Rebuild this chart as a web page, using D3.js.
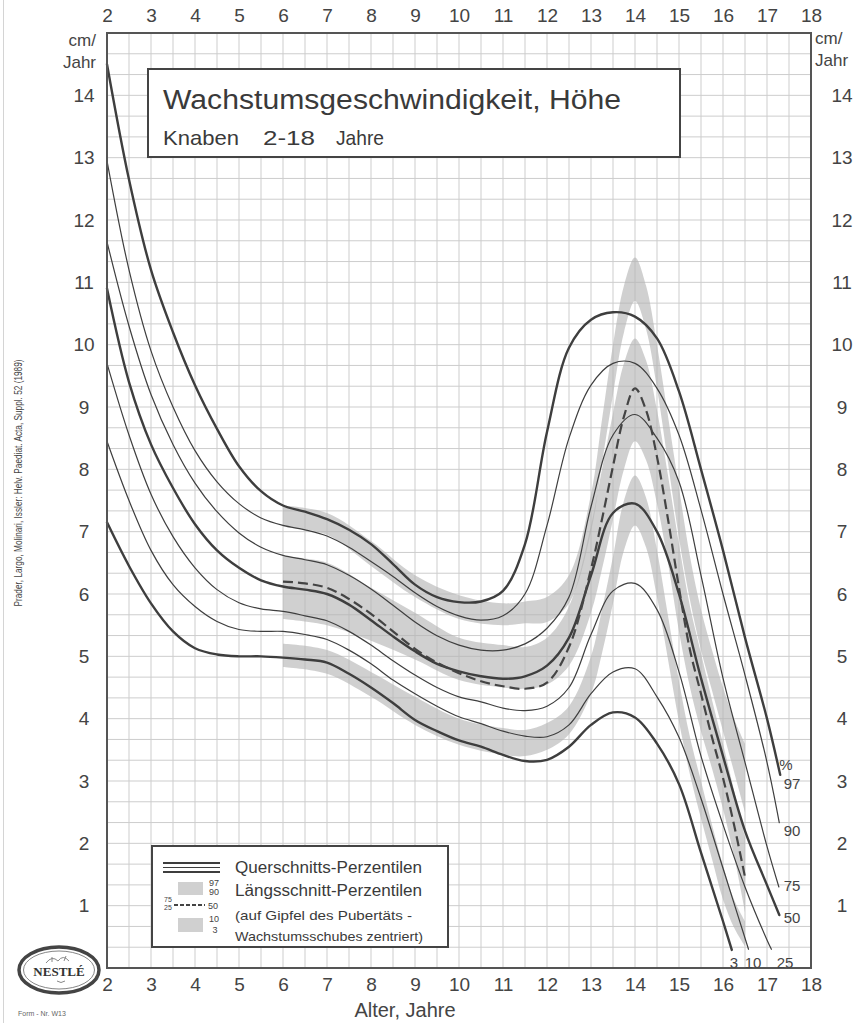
<!DOCTYPE html>
<html>
<head>
<meta charset="utf-8">
<script src="https://cdn.jsdelivr.net/npm/d3@7"></script>
<style>
  html, body { margin: 0; padding: 0; background: #fff; }
  svg { display: block; font-family: "Liberation Sans", Arial, Helvetica, sans-serif; }
</style>
</head>
<body>
<svg id="chart" width="868" height="1023"></svg>
<script>
// ---- Tick labels -------------------------------------------------------
const ageTicks = [2, 3, 4, 5, 6, 7, 8, 9, 10, 11, 12, 13, 14, 15, 16, 17, 18];
const rateTicks = [1, 2, 3, 4, 5, 6, 7, 8, 9, 10, 11, 12, 13, 14];

// ---- Cross-sectional percentiles: [age (years), velocity (cm/year)] -----
const p97 = [[2,14.5],[2.5,12.65],[3,11.2],[3.5,10.2],[4,9.35],[4.5,8.65],[5,8.05],[5.5,7.65],[6,7.42],[6.5,7.32],[7,7.2],[7.5,7.03],[8,6.8],[8.5,6.48],[9,6.15],[9.5,5.95],[10,5.87],[10.5,5.88],[11,6.05],[11.5,6.8],[12,8.6],[12.5,9.95],[13,10.4],[13.5,10.52],[14,10.45],[14.5,10.1],[15,9.25],[15.5,8.0],[16,6.7],[16.5,5.3],[17,4.0],[17.3,3.1]];
const p90 = [[2,12.95],[2.5,11.2],[3,9.9],[3.5,9.0],[4,8.3],[4.5,7.8],[5,7.45],[5.5,7.22],[6,7.1],[6.5,7.03],[7,6.93],[7.5,6.75],[8,6.52],[8.5,6.28],[9,6.02],[9.5,5.8],[10,5.65],[10.5,5.58],[11,5.65],[11.5,6.0],[12,7.1],[12.5,8.5],[13,9.35],[13.5,9.7],[14,9.7],[14.5,9.3],[15,8.55],[15.5,7.35],[16,6.0],[16.5,4.7],[17,3.3],[17.28,2.33]];
const p75 = [[2,11.65],[2.5,10.3],[3,9.2],[3.5,8.4],[4,7.78],[4.5,7.32],[5,6.98],[5.5,6.75],[6,6.62],[6.5,6.55],[7,6.47],[7.5,6.3],[8,6.08],[8.5,5.82],[9,5.55],[9.5,5.33],[10,5.18],[10.5,5.1],[11,5.1],[11.5,5.2],[12,5.45],[12.5,5.95],[13,7.4],[13.5,8.55],[14,8.88],[14.5,8.5],[15,7.8],[15.5,6.3],[16,4.65],[16.5,3.3],[17,1.95],[17.27,1.3]];
const p50 = [[2,10.9],[2.5,9.4],[3,8.4],[3.5,7.7],[4,7.12],[4.5,6.7],[5,6.42],[5.5,6.22],[6,6.12],[6.5,6.07],[7,6.0],[7.5,5.83],[8,5.58],[8.5,5.32],[9,5.08],[9.5,4.88],[10,4.76],[10.5,4.68],[11,4.64],[11.5,4.68],[12,4.85],[12.5,5.3],[13,6.3],[13.5,7.3],[14,7.45],[14.5,7.0],[15,6.0],[15.5,4.65],[16,3.4],[16.5,2.2],[17,1.33],[17.28,0.85]];
const p25 = [[2,9.7],[2.5,8.55],[3,7.6],[3.5,6.92],[4,6.42],[4.5,6.07],[5,5.86],[5.5,5.76],[6,5.72],[6.5,5.65],[7,5.57],[7.5,5.4],[8,5.18],[8.5,4.93],[9,4.7],[9.5,4.5],[10,4.35],[10.5,4.27],[11,4.17],[11.5,4.13],[12,4.2],[12.5,4.5],[13,5.35],[13.5,6.05],[14,6.17],[14.5,5.75],[15,4.75],[15.5,3.4],[16,2.3],[16.5,1.3],[17,0.45],[17.1,0.3]];
const p10 = [[2,8.45],[2.5,7.5],[3,6.7],[3.5,6.15],[4,5.8],[4.5,5.56],[5,5.43],[5.5,5.4],[6,5.4],[6.5,5.35],[7,5.27],[7.5,5.1],[8,4.88],[8.5,4.62],[9,4.4],[9.5,4.2],[10,4.03],[10.5,3.92],[11,3.8],[11.5,3.72],[12,3.71],[12.5,3.9],[13,4.4],[13.5,4.75],[14,4.8],[14.5,4.35],[15,3.7],[15.5,2.72],[16,1.6],[16.58,0.3]];
const p3 = [[2,7.15],[2.5,6.45],[3,5.85],[3.5,5.4],[4,5.13],[4.5,5.03],[5,5.0],[5.5,5.0],[6,4.98],[6.5,4.95],[7,4.9],[7.5,4.72],[8,4.5],[8.5,4.25],[9,3.98],[9.5,3.8],[10,3.65],[10.5,3.55],[11,3.42],[11.5,3.32],[12,3.34],[12.5,3.55],[13,3.9],[13.5,4.1],[14,4.02],[14.5,3.6],[15,2.95],[15.5,1.85],[16,0.75],[16.2,0.29]];

// ---- Longitudinal percentiles (centred on peak height velocity) --------
const longAges = [6,7,8,9,10,11,11.5,12,12.5,13,13.25,13.5,13.75,14,14.25,14.5,14.75,15,15.25,15.5,15.75,16,16.25,16.5];
const long97 = [7.42,7.3,6.85,6.3,5.98,5.85,5.88,5.95,6.3,7.6,8.8,10.0,10.95,11.4,10.95,10.0,8.85,7.7,6.6,5.75,5.1,4.5,4.0,3.6];
const long90 = [7.08,6.95,6.45,5.95,5.6,5.5,5.53,5.55,5.85,7.0,8.1,9.2,10.2,10.7,10.25,9.3,8.1,6.9,5.9,5.1,4.45,3.8,3.15,2.5];
const long75 = [6.6,6.5,6.1,5.7,5.3,5.18,5.15,5.3,5.8,7.1,8.0,8.9,9.7,10.1,9.75,8.95,7.9,6.8,5.8,5.05,4.3,3.6,2.85,2.1];
const long25 = [5.6,5.5,5.25,4.95,4.62,4.5,4.48,4.55,4.85,5.7,6.4,7.2,8.0,8.45,8.15,7.45,6.5,5.4,4.5,3.8,3.2,2.55,1.8,0.9];
const long10 = [5.2,5.1,4.75,4.35,4.0,3.85,3.82,3.93,4.2,5.0,5.75,6.6,7.5,7.9,7.55,6.7,5.65,4.6,3.7,3.0,2.3,1.65,1.1,0.75];
const long3  = [4.83,4.72,4.35,3.9,3.58,3.42,3.4,3.5,3.75,4.4,5.05,5.85,6.7,7.1,6.75,5.95,4.95,3.95,3.1,2.4,1.75,1.1,0.65,0.35];
const long50 = [[6,6.2],[6.5,6.17],[7,6.1],[7.5,5.92],[8,5.68],[8.5,5.4],[9,5.12],[9.5,4.9],[10,4.73],[10.5,4.6],[11,4.52],[11.5,4.48],[12,4.58],[12.5,5.15],[13,6.4],[13.25,7.2],[13.5,8.05],[13.75,8.85],[14,9.3],[14.25,8.95],[14.5,8.2],[14.75,7.2],[15,6.1],[15.25,5.1],[15.5,4.4],[15.75,3.7],[16,3.05],[16.25,2.3],[16.5,1.46]];

// ---- Setup --------------------------------------------------------------
const svg = d3.select("#chart");
const ink = "#3e3e3e";
const x = d3.scaleLinear().domain([2, 18]).range([107, 811]);
const y = d3.scaleLinear().domain([0, 15]).range([968, 33]);

// page edge
svg.append("line").attr("x1", 3.5).attr("x2", 3.5).attr("y1", 0).attr("y2", 1023)
  .attr("stroke", "#d4d4d4").attr("stroke-width", 1);

// ---- Grid ---------------------------------------------------------------
const grid = svg.append("g").attr("stroke", "#cdcdcd").attr("stroke-width", 1);
grid.selectAll("line.v").data(d3.range(2, 18.001, 0.5)).join("line")
  .attr("x1", d => x(d)).attr("x2", d => x(d)).attr("y1", y(15)).attr("y2", y(0));
grid.selectAll("line.h").data(d3.range(0, 46).map(i => i / 3)).join("line")
  .attr("y1", d => y(d)).attr("y2", d => y(d)).attr("x1", x(2)).attr("x2", x(18));

// ---- Longitudinal bands -------------------------------------------------
const bandCurve = d3.curveCatmullRom.alpha(0.5);
const area = d3.area()
  .x((d, i) => x(longAges[i]))
  .y0(d => y(d[0])).y1(d => y(d[1]))
  .curve(bandCurve);
const bands = [
  [long90, long97],
  [long25, long75],
  [long3, long10]
];
svg.append("g").selectAll("path").data(bands).join("path")
  .attr("d", b => area(longAges.map((a, i) => [b[0][i], b[1][i]])))
  .attr("fill", "#b3b3b3").attr("fill-opacity", 0.62);

// ---- Cross-sectional percentile curves -------------------------------
const line = d3.line().x(d => x(d[0])).y(d => y(d[1])).curve(d3.curveCatmullRom.alpha(0.5));
const curves = [
  { data: p97, w: 2.4 }, { data: p90, w: 1.2 }, { data: p75, w: 1.2 },
  { data: p50, w: 2.4 }, { data: p25, w: 1.2 }, { data: p10, w: 1.2 },
  { data: p3, w: 2.4 }
];
svg.append("g").selectAll("path").data(curves).join("path")
  .attr("d", c => line(c.data))
  .attr("fill", "none").attr("stroke", ink)
  .attr("stroke-width", c => c.w).attr("stroke-linecap", "round");

// longitudinal median, dashed
svg.append("path").attr("d", line(long50))
  .attr("fill", "none").attr("stroke", "#444").attr("stroke-width", 2.2)
  .attr("stroke-dasharray", "10,5");

// ---- Frame ------------------------------------------------------------------
svg.append("rect").attr("x", x(2)).attr("y", y(15))
  .attr("width", x(18) - x(2)).attr("height", y(0) - y(15))
  .attr("fill", "none").attr("stroke", "#555").attr("stroke-width", 2);

// ---- Axes ------------------------------------------------------------------
function styleAxis(g) {
  g.select(".domain").remove();
  g.selectAll("text").attr("font-size", 19).attr("fill", "#444")
    .attr("font-family", "'Liberation Sans', Arial, sans-serif");
}
svg.append("g").attr("transform", `translate(0,${y(15)})`)
  .call(d3.axisTop(x).tickValues(ageTicks).tickSize(0).tickPadding(11).tickFormat(d3.format("d")))
  .call(styleAxis);
svg.append("g").attr("transform", `translate(0,${y(0)})`)
  .call(d3.axisBottom(x).tickValues(ageTicks).tickSize(0).tickPadding(10).tickFormat(d3.format("d")))
  .call(styleAxis);
svg.append("g").attr("transform", `translate(${x(2)},0)`)
  .call(d3.axisLeft(y).tickValues(rateTicks).tickSize(0).tickFormat(d3.format("d")))
  .call(styleAxis)
  .call(g => g.selectAll("text").attr("x", -23).attr("text-anchor", "middle"));
svg.append("g").attr("transform", `translate(${x(18)},0)`)
  .call(d3.axisRight(y).tickValues(rateTicks).tickSize(0).tickFormat(d3.format("d")))
  .call(styleAxis)
  .call(g => g.selectAll("text").attr("x", 31).attr("text-anchor", "middle"));

// unit labels
const unitStyle = s => s.attr("font-size", 17).attr("fill", "#444");
svg.append("text").attr("x", 96).attr("y", 46).attr("text-anchor", "end").text("cm/").call(unitStyle);
svg.append("text").attr("x", 96).attr("y", 68).attr("text-anchor", "end").text("Jahr").call(unitStyle);
svg.append("text").attr("x", 815).attr("y", 44).text("cm/").call(unitStyle);
svg.append("text").attr("x", 815).attr("y", 66).text("Jahr").call(unitStyle);

svg.append("text").attr("x", 405).attr("y", 1017).attr("text-anchor", "middle")
  .attr("font-size", 20).attr("fill", "#444").text("Alter, Jahre");

// ---- Title box -----------------------------------------------------------
svg.append("rect").attr("x", 148).attr("y", 69).attr("width", 532).attr("height", 88)
  .attr("fill", "#fff").attr("stroke", "#444").attr("stroke-width", 2);
svg.append("text").attr("x", 163).attr("y", 109).attr("font-size", 27).attr("fill", "#3a3a3a")
  .attr("textLength", 458).attr("lengthAdjust", "spacingAndGlyphs")
  .text("Wachstumsgeschwindigkeit, Höhe");
const sub = [
  { t: "Knaben", x: 163, w: 76 },
  { t: "2-18", x: 263, w: 52 },
  { t: "Jahre", x: 336, w: 48 }
];
svg.append("g").selectAll("text").data(sub).join("text")
  .attr("x", d => d.x).attr("y", 145).attr("font-size", 21).attr("fill", "#3a3a3a")
  .attr("textLength", d => d.w).attr("lengthAdjust", "spacingAndGlyphs").text(d => d.t);

// ---- Percentile labels at curve ends -------------------------------------
const endLabels = [
  { t: "%", x: 786, y: 770 }, { t: "97", x: 792, y: 789 }, { t: "90", x: 792, y: 836 },
  { t: "75", x: 792, y: 891 }, { t: "50", x: 792, y: 923 }, { t: "25", x: 785, y: 968 },
  { t: "10", x: 753, y: 968 }, { t: "3", x: 734, y: 968 }
];
svg.append("g").selectAll("text").data(endLabels).join("text")
  .attr("x", d => d.x).attr("y", d => d.y).attr("text-anchor", "middle")
  .attr("font-size", 15).attr("fill", "#444").text(d => d.t);

// ---- Legend ---------------------------------------------------------------
const lg = svg.append("g");
lg.append("rect").attr("x", 152).attr("y", 846).attr("width", 296).attr("height", 101)
  .attr("fill", "#fff").attr("stroke", "#444").attr("stroke-width", 2);
[[863, 2], [867.5, 1.1], [872, 2]].forEach(([yy, w]) => {
  lg.append("line").attr("x1", 163).attr("x2", 220).attr("y1", yy).attr("y2", yy)
    .attr("stroke", ink).attr("stroke-width", w);
});
lg.append("rect").attr("x", 178).attr("y", 882).attr("width", 25).attr("height", 13)
  .attr("fill", "#b3b3b3").attr("fill-opacity", 0.62);
lg.append("rect").attr("x", 178).attr("y", 918).attr("width", 25).attr("height", 14)
  .attr("fill", "#b3b3b3").attr("fill-opacity", 0.62);
lg.append("line").attr("x1", 174).attr("x2", 205).attr("y1", 905).attr("y2", 905)
  .attr("stroke", "#444").attr("stroke-width", 1.8).attr("stroke-dasharray", "4,2");
const small = [
  { t: "97", x: 214, y: 886, s: 9 }, { t: "90", x: 214, y: 895, s: 9 },
  { t: "75", x: 168, y: 902, s: 7 }, { t: "25", x: 168, y: 909.5, s: 7 }, { t: "50", x: 213, y: 909, s: 9 },
  { t: "10", x: 214, y: 922, s: 9 }, { t: "3", x: 215, y: 933, s: 9 }
];
lg.selectAll("text.s").data(small).join("text")
  .attr("x", d => d.x).attr("y", d => d.y).attr("text-anchor", "middle")
  .attr("font-size", d => d.s).attr("fill", "#444").text(d => d.t);
lg.append("text").attr("x", 235).attr("y", 873).attr("font-size", 16).attr("fill", "#3a3a3a")
  .attr("textLength", 187).attr("lengthAdjust", "spacingAndGlyphs").text("Querschnitts-Perzentilen");
lg.append("text").attr("x", 235).attr("y", 896).attr("font-size", 16).attr("fill", "#3a3a3a")
  .attr("textLength", 187).attr("lengthAdjust", "spacingAndGlyphs").text("Längsschnitt-Perzentilen");
lg.append("text").attr("x", 235).attr("y", 920).attr("font-size", 13).attr("fill", "#3a3a3a")
  .attr("textLength", 177).attr("lengthAdjust", "spacingAndGlyphs").text("(auf Gipfel des Pubertäts -");
lg.append("text").attr("x", 235).attr("y", 941).attr("font-size", 13).attr("fill", "#3a3a3a")
  .attr("textLength", 188).attr("lengthAdjust", "spacingAndGlyphs").text("Wachstumsschubes zentriert)");

// ---- Source note, logo, form number ----------------------------------------
svg.append("text").attr("transform", "translate(22,483) rotate(-90)")
  .attr("text-anchor", "middle").attr("font-size", 10).attr("fill", "#444")
  .attr("textLength", 247).attr("lengthAdjust", "spacingAndGlyphs")
  .text("Prader, Largo, Molinari, Issler: Helv. Paediat. Acta, Suppl. 52 (1989)");

const logo = svg.append("g");
logo.append("ellipse").attr("cx", 59).attr("cy", 970).attr("rx", 40).attr("ry", 23)
  .attr("fill", "#fff").attr("stroke", "#444").attr("stroke-width", 3.5);
logo.append("ellipse").attr("cx", 59).attr("cy", 970).attr("rx", 35.5).attr("ry", 19)
  .attr("fill", "none").attr("stroke", "#666").attr("stroke-width", 0.8);
logo.append("path").attr("d", "M46,963 q6,-8 12,-2 q5,-7 11,0 M52,962 l0,-5 M64,961 l2,-5 M57,981 q4,3 8,0")
  .attr("fill", "none").attr("stroke", "#888").attr("stroke-width", 1);
logo.append("text").attr("x", 59).attr("y", 976).attr("text-anchor", "middle")
  .attr("font-family", "'Liberation Serif', 'DejaVu Serif', serif").attr("font-weight", "bold")
  .attr("font-size", 13).attr("fill", "#333").text("NESTLÉ");
logo.append("text").attr("x", 95).attr("y", 980).attr("font-size", 5).attr("fill", "#555").text("®");

svg.append("text").attr("x", 18).attr("y", 1016).attr("font-size", 7).attr("fill", "#666")
  .text("Form - Nr.  W13");
</script>
</body>
</html>
